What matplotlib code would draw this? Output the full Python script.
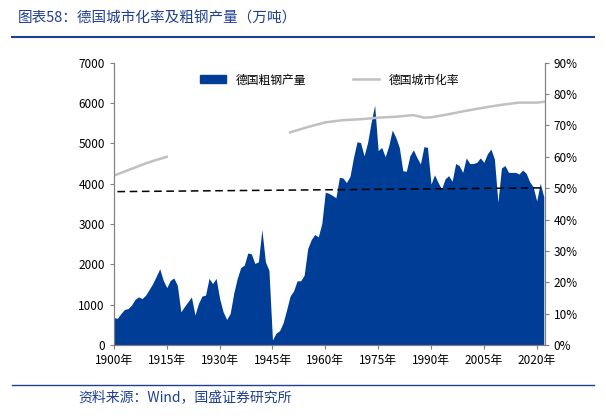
import matplotlib
matplotlib.use("Agg")
import matplotlib.pyplot as plt
import numpy as np
from matplotlib.lines import Line2D
from matplotlib.ticker import FuncFormatter

plt.rcParams['font.family'] = ['Noto Sans CJK SC', 'DejaVu Sans']

years = list(range(1900, 2023))
steel = [675,660,780,880,900,990,1130,1190,1150,1235,1375,1520,1700,1890,1600,1420,1600,1660,1480,820,
         950,1070,1190,740,1030,1210,1235,1650,1520,1650,1150,820,630,780,1280,1650,1920,1980,2280,2260,
         2020,2060,2860,2060,1850,120,290,350,540,865,1210,1340,1590,1590,1730,2390,2610,2740,2680,3010,
         3790,3760,3710,3650,4160,4140,4030,4180,4650,5040,5020,4690,5020,5520,5950,4820,4900,4670,4940,5330,
         5150,4900,4320,4310,4690,4840,4650,4490,4920,4900,3990,4220,4030,3870,4120,4200,4060,4500,4450,4280,
         4640,4500,4500,4530,4640,4530,4740,4860,4610,3540,4390,4450,4280,4280,4280,4240,4340,4260,4050,3920,
         3570,4010,3680]

urb_years1 = [1900, 1903, 1906, 1909, 1912, 1915]
urb_vals1 = [54.0, 55.3, 56.6, 57.9, 59.0, 60.0]
urb_years2 = [1950, 1955, 1960, 1965, 1970, 1975, 1980, 1985, 1988, 1990, 1995, 2000, 2005, 2010, 2015, 2020, 2022.3]
urb_vals2 = [67.8, 69.5, 71.0, 71.7, 72.0, 72.5, 72.8, 73.3, 72.5, 72.6, 73.6, 74.7, 75.7, 76.6, 77.3, 77.3, 77.6]
trend_years = [1901, 2022]
trend_vals = [48.9, 50.1]

fig = plt.figure(figsize=(6.06, 4.16), dpi=100)
ax = fig.add_axes([0.188, 0.171, 0.711, 0.678])
navy = '#003d96'
ax.fill_between(years, steel, 0, color=navy, lw=0)
ax.set_xlim(1900, 2022.3)
ax.set_ylim(0, 7000)
ax.set_yticks(range(0, 7001, 1000))
ax.set_xticks(range(1900, 2021, 15))
ax.set_xticklabels([f'{y}年' for y in range(1900, 2021, 15)])
ax2 = ax.twinx()
ax2.plot(urb_years1, urb_vals1, color='#c0c0c0', lw=1.8)
ax2.plot(urb_years2, urb_vals2, color='#c0c0c0', lw=1.8)
ax2.plot(trend_years, trend_vals, color='black', lw=1.1, ls=(0, (5, 3)))
ax2.set_ylim(0, 90)
ax2.set_yticks(range(0, 91, 10))
ax2.yaxis.set_major_formatter(FuncFormatter(lambda v, p: f'{int(v)}%'))
for a in (ax, ax2):
    a.spines['top'].set_visible(False)
    for s in a.spines.values():
        s.set_color('#808080')
    a.tick_params(labelsize=8.5, color='#808080', length=3)
ax.tick_params(axis='x', direction='out')
handles = [plt.Rectangle((0, 0), 1, 1, color=navy),
           Line2D([], [], color='#c0c0c0', lw=1.8)]
ax.legend(handles, ['德国粗钢产量', '德国城市化率'], ncol=2, frameon=False,
          loc='upper center', bbox_to_anchor=(0.5, 1.0), fontsize=8.5,
          columnspacing=4, handlelength=2.2)

fig.text(0.03, 0.955, '图表58：德国城市化率及粗钢产量（万吨）', fontsize=10.5,
         color='#1f3f8f', style='italic', va='center')
fig.add_artist(Line2D([0.02, 0.98], [0.91, 0.91], color='#1f3f8f', lw=1.5))
fig.add_artist(Line2D([0.02, 0.98], [0.075, 0.075], color='#1f3f8f', lw=1.0))
fig.text(0.13, 0.045, '资料来源：Wind，国盛证券研究所', fontsize=10,
         color='#1f3f8f', style='italic', va='center')
fig.savefig('out.png', dpi=100)
